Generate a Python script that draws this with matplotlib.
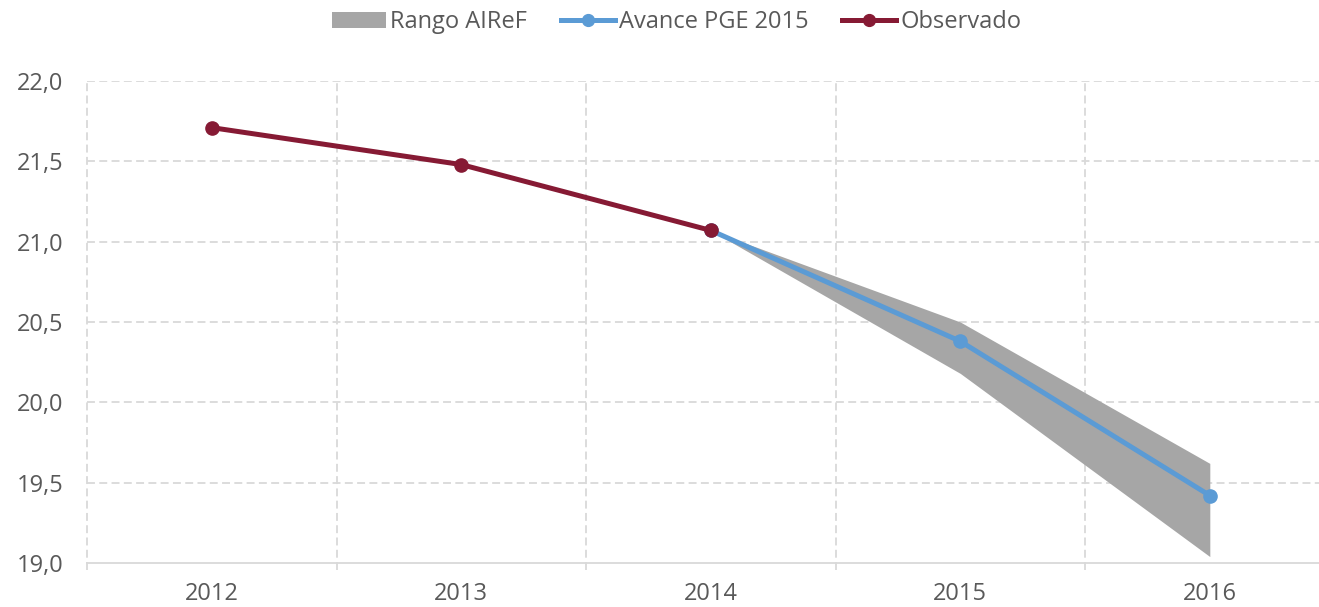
import numpy as np
import matplotlib.pyplot as plt
from matplotlib.patches import Patch
from matplotlib.lines import Line2D

# ---- data ----
years = ["2012", "2013", "2014", "2015", "2016"]
observado = [21.71, 21.48, 21.07, np.nan, np.nan]
avance_pge = [np.nan, np.nan, 21.07, 20.38, 19.42]
rango_low = [np.nan, np.nan, 21.07, 20.18, 19.04]
rango_high = [np.nan, np.nan, 21.07, 20.50, 19.62]

yticks = [19.0, 19.5, 20.0, 20.5, 21.0, 21.5, 22.0]

# ---- style ----
plt.rcParams['font.family'] = ['Open Sans', 'DejaVu Sans']
txt_col = '#595959'
grid_col = '#d9d9d9'
blue = '#5B9BD5'
red = '#861A34'
gray = '#A6A6A6'
fs = 17
dash = (0, (4.4, 2.4))

fig = plt.figure(figsize=(13.19, 6.07), dpi=100)
# right edge of the plot area runs past the figure, as in the original
ax = fig.add_axes([0.066, 0.0725, 0.9458, 0.794])

x = np.arange(len(years))
ax.fill_between(x, rango_low, rango_high, color=gray, linewidth=0, zorder=2)
ax.plot(x, avance_pge, color=blue, lw=3.6, marker='o', ms=9.5, zorder=3)
ax.plot(x, observado, color=red, lw=3.6, marker='o', ms=9.5, zorder=4)

ax.set_xlim(-0.5, 4.5)
ax.set_ylim(19.0, 22.0)
ax.set_yticks(yticks)
ax.set_yticklabels([f"{v:.1f}".replace('.', ',') for v in yticks])
ax.set_xticks(x)
ax.set_xticklabels(years)

# grid: horizontal at ticks, vertical at category boundaries
for v in yticks[1:]:
    ax.axhline(v, color=grid_col, lw=1.3, ls=dash, zorder=1)
for b in np.arange(-0.5, 4.0, 1.0):
    ax.plot([b, b], [18.955, 22.0], color=grid_col, lw=1.3, ls=dash,
            zorder=1, clip_on=False)

for s in ['top', 'right', 'left']:
    ax.spines[s].set_visible(False)
ax.spines['bottom'].set_color(grid_col)
ax.spines['bottom'].set_linewidth(1.3)
ax.tick_params(axis='both', length=0, labelsize=fs, colors=txt_col)
ax.tick_params(axis='x', pad=14)
ax.tick_params(axis='y', pad=17)

handles = [Patch(facecolor=gray, edgecolor='none'),
           Line2D([0], [0], color=blue, lw=3.6, marker='o', ms=8.5),
           Line2D([0], [0], color=red, lw=3.6, marker='o', ms=8.5)]
labels = ["Rango AIReF", "Avance PGE 2015", "Observado"]
leg = fig.legend(handles, labels, loc='upper center', bbox_to_anchor=(0.513, 1.018),
                 ncol=3, frameon=False, fontsize=fs, handlelength=2.27,
                 handletextpad=0.17, columnspacing=1.45, labelcolor=txt_col)

fig.savefig('out.png', dpi=100)
